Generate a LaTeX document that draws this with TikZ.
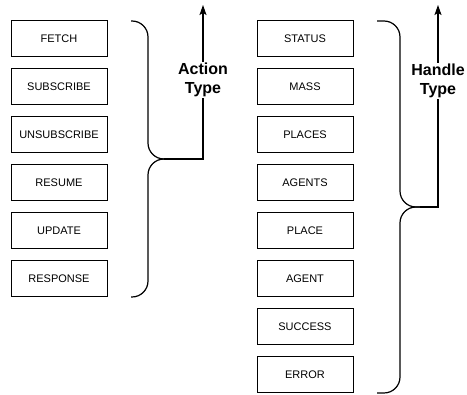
\documentclass[tikz,border=0pt]{standalone}
\usepackage{fontspec}
\setmainfont{Liberation Sans}
\usetikzlibrary{arrows.meta}
\begin{document}
\begin{tikzpicture}[x=1pt,y=-1pt,
  item/.style={draw,line width=1pt,minimum width=96pt,minimum height=36pt,
    inner sep=0pt,font=\fontsize{11}{13}\selectfont},
  brace/.style={line width=1.2pt,rounded corners=16pt},
  typearrow/.style={line width=1.2pt,-{Stealth[length=10pt,width=7pt,inset=2pt]}},
  typelabel/.style={fill=white,inner sep=1pt,align=center,
    font=\fontsize{16}{19}\selectfont\bfseries}]
\useasboundingbox (0,0) rectangle (467,395);

% action types
\foreach \name/\txt [count=\i from 0] in
  {fetch/FETCH,subscribe/SUBSCRIBE,unsubscribe/UNSUBSCRIBE,resume/RESUME,update/UPDATE,response/RESPONSE}
  \node[item] (\name) at (59,39+48*\i) {\txt};

% handle types
\foreach \name/\txt [count=\i from 0] in
  {status/STATUS,mass/MASS,places/PLACES,agents/AGENTS,place/PLACE,agent/AGENT,success/SUCCESS,error/ERROR}
  \node[item] (\name) at (305,39+48*\i) {\txt};

% action brace
\coordinate (atop) at (131,21);
\coordinate (abot) at (131,297);
\coordinate (atip) at (164,159);
\coordinate (aend) at (203,5);
\draw[brace] (atop) -- (148,21) -- (148,159) -- (atip);
\draw[brace] (atip) -- (148,159) -- (148,297) -- (abot);
\draw[typearrow] (atip) -| (aend);
\node[typelabel] (alabel) at (203,80) {Action\\Type};

% handle brace
\coordinate (htop) at (377,21);
\coordinate (hbot) at (377,393);
\coordinate (htip) at (420,207);
\coordinate (hend) at (438,5);
\draw[brace] (htop) -- (400,21) -- (400,207) -- (htip);
\draw[brace] (htip) -- (400,207) -- (400,393) -- (hbot);
\draw[typearrow] (htip) -| (hend);
\node[typelabel] (hlabel) at (438,81) {Handle\\Type};
\end{tikzpicture}
\end{document}
